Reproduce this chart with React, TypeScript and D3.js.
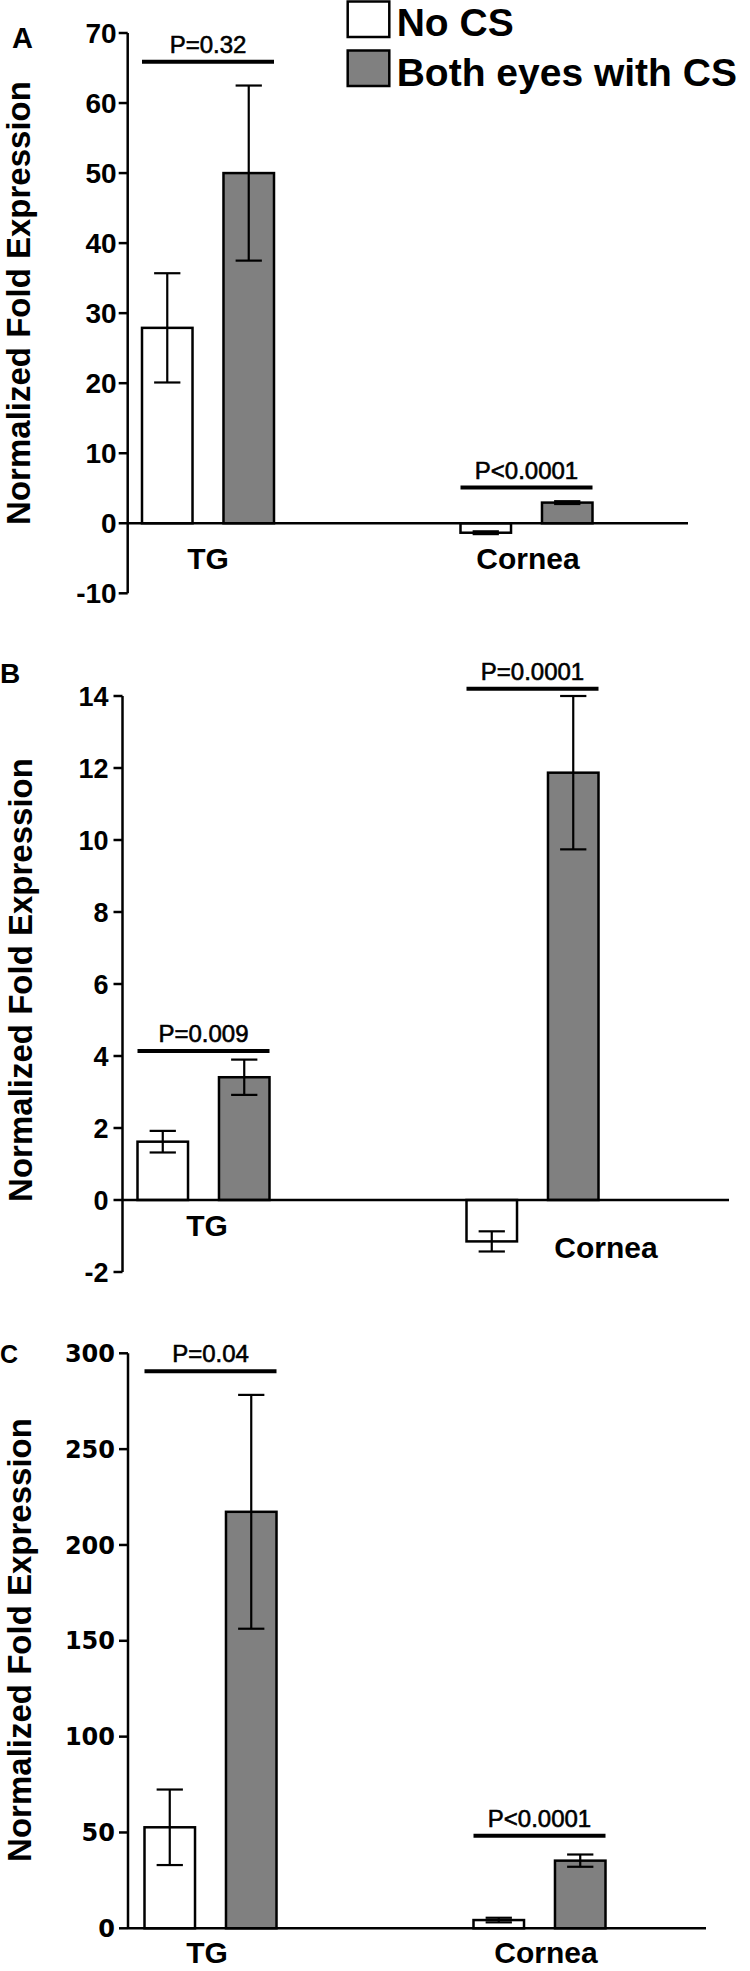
import React from 'react';
import * as d3 from 'd3';

// ---------- data ----------
const categories = ['TG', 'Cornea'];
const series = ['No CS', 'Both eyes with CS'];
const seriesFill = ['#ffffff', '#808080'];

// Panel A
const aNoCS = [27.9, -1.35];
const aNoCSErr = [7.8, 0.2];
const aBoth = [50.0, 2.95];
const aBothErr = [12.5, 0.2];
const aTicks = [-10, 0, 10, 20, 30, 40, 50, 60, 70];
const aPLabels = ['P=0.32', 'P<0.0001'];
const aPLevel = [65.9, 5.1];

// Panel B
const bNoCS = [1.62, -1.15];
const bNoCSErr = [0.3, 0.28];
const bBoth = [3.41, 11.87];
const bBothErr = [0.49, 2.13];
const bTicks = [-2, 0, 2, 4, 6, 8, 10, 12, 14];
const bPLabels = ['P=0.009', 'P=0.0001'];
const bPLevel = [4.14, 14.2];

// Panel C
const cNoCS = [52.7, 4.3];
const cNoCSErr = [19.7, 1.2];
const cBoth = [217.3, 35.3];
const cBothErr = [61, 3.2];
const cTicks = [0, 50, 100, 150, 200, 250, 300];
const cPLabels = ['P=0.04', 'P<0.0001'];
const cPLevel = [290.7, 48.3];

const yTitle = 'Normalized Fold Expression';
const FONT = "'Liberation Sans', Arial, sans-serif";

// ---------- layout ----------
const panels = [
  {
    letter: 'A', letterX: 12, letterY: 48, letterSize: 29,
    means: [aNoCS, aBoth], errs: [aNoCSErr, aBothErr], ticks: aTicks,
    pLabels: aPLabels, pLevel: aPLevel,
    yDomain: [-10, 70], yRange: [593.3, 33],
    axisX: 127.7, axisEnd: 688, centers: [208, 526.5],
    tickFont: FONT, tickSize: 28, tickGap: 11,
    titleX: 30, titleY: 303,
    catX: [208, 528], catY: [569, 569],
  },
  {
    letter: 'B', letterX: 0, letterY: 683, letterSize: 28,
    means: [bNoCS, bBoth], errs: [bNoCSErr, bBothErr], ticks: bTicks,
    pLabels: bPLabels, pLevel: bPLevel,
    yDomain: [-2, 14], yRange: [1272, 696],
    axisX: 122.5, axisEnd: 729, centers: [203.5, 532.5],
    tickFont: FONT, tickSize: 27, tickGap: 14,
    titleX: 32, titleY: 980,
    catX: [207, 606], catY: [1236, 1258],
  },
  {
    letter: 'C', letterX: 0, letterY: 1363, letterSize: 25,
    means: [cNoCS, cBoth], errs: [cNoCSErr, cBothErr], ticks: cTicks,
    pLabels: cPLabels, pLevel: cPLevel,
    yDomain: [0, 300], yRange: [1928.3, 1353.3],
    axisX: 128, axisEnd: 706, centers: [210.5, 539.5],
    tickFont: "'DejaVu Sans', sans-serif", tickSize: 24, tickGap: 13,
    titleX: 30.5, titleY: 1640,
    catX: [207, 546], catY: [1963, 1963],
  },
];

function Panel({ p }: { p: any }) {
  const y = d3.scaleLinear().domain(p.yDomain).range(p.yRange);
  const xg = d3.scalePoint<string>().domain(categories).range(p.centers);
  const xs = d3.scaleBand<string>().domain(series).range([-66, 66]).paddingInner(0.38);
  const bw = xs.bandwidth();
  const capW = bw * 0.52;
  const y0 = y(0);
  const [yb, yt] = p.yRange;

  return (
    <g>
      <text x={p.letterX} y={p.letterY} fontFamily={FONT} fontWeight="bold" fontSize={p.letterSize}>{p.letter}</text>
      <text transform={`translate(${p.titleX},${p.titleY}) rotate(-90)`} textAnchor="middle"
        fontFamily={FONT} fontWeight="bold" fontSize={33}>{yTitle}</text>

      {/* bars */}
      {categories.map((cat, i) =>
        series.map((s, j) => {
          const v = p.means[j][i];
          const x = (xg(cat) as number) + (xs(s) as number);
          return (
            <rect key={cat + s} x={x} y={Math.min(y(v), y0)} width={bw} height={Math.abs(y(v) - y0)}
              fill={seriesFill[j]} stroke="#000" strokeWidth={2.5} />
          );
        })
      )}

      {/* error bars */}
      {categories.map((cat, i) =>
        series.map((s, j) => {
          const v = p.means[j][i];
          const e = p.errs[j][i];
          const cx = (xg(cat) as number) + (xs(s) as number) + bw / 2;
          return (
            <g key={'e' + cat + s} stroke="#000" strokeWidth={2.2}>
              <line x1={cx} x2={cx} y1={y(v + e)} y2={y(v - e)} />
              <line x1={cx - capW / 2} x2={cx + capW / 2} y1={y(v + e)} y2={y(v + e)} />
              <line x1={cx - capW / 2} x2={cx + capW / 2} y1={y(v - e)} y2={y(v - e)} />
            </g>
          );
        })
      )}

      {/* axes */}
      <line x1={p.axisX} x2={p.axisX} y1={yb} y2={yt} stroke="#000" strokeWidth={2.5} />
      <line x1={p.axisX} x2={p.axisEnd} y1={y0} y2={y0} stroke="#000" strokeWidth={2.5} />
      {p.ticks.map((t: number) => (
        <g key={'t' + t}>
          <line x1={p.axisX - 9} x2={p.axisX} y1={y(t)} y2={y(t)} stroke="#000" strokeWidth={2.5} />
          <text x={p.axisX - p.tickGap} y={y(t)} dy="0.36em" textAnchor="end"
            fontFamily={p.tickFont} fontWeight="bold" fontSize={p.tickSize}>{t}</text>
        </g>
      ))}

      {/* category labels */}
      {categories.map((cat, i) => (
        <text key={'c' + cat} x={p.catX[i]} y={p.catY[i]} textAnchor="middle"
          fontFamily={FONT} fontWeight="bold" fontSize={30}>{cat}</text>
      ))}

      {/* p-value brackets */}
      {categories.map((cat, i) => {
        const x1 = (xg(cat) as number) + (xs(series[0]) as number);
        const x2 = (xg(cat) as number) + (xs(series[1]) as number) + bw;
        const ly = y(p.pLevel[i]);
        return (
          <g key={'p' + cat}>
            <line x1={x1} x2={x2} y1={ly} y2={ly} stroke="#000" strokeWidth={4} />
            <text x={(x1 + x2) / 2} y={ly - 9} textAnchor="middle" fontFamily={FONT}
              fontSize={24} stroke="#000" strokeWidth={0.6}>{p.pLabels[i]}</text>
          </g>
        );
      })}
    </g>
  );
}

export default function App() {
  return (
    <svg width={750} height={1971} style={{ position: 'absolute', left: 0, top: 0, background: '#fff' }}>
      <rect x={0} y={0} width={750} height={1971} fill="#fff" />
      {/* legend */}
      {series.map((s, j) => (
        <g key={'l' + s}>
          <rect x={347.7} y={1.5 + j * 49} width={41.6} height={35.5} fill={seriesFill[j]} stroke="#000" strokeWidth={2.5} />
          <text x={396.7} y={35.5 + j * 50} fontFamily={FONT} fontWeight="bold" fontSize={39}>{s}</text>
        </g>
      ))}
      {panels.map((p) => <Panel key={p.letter} p={p} />)}
    </svg>
  );
}
